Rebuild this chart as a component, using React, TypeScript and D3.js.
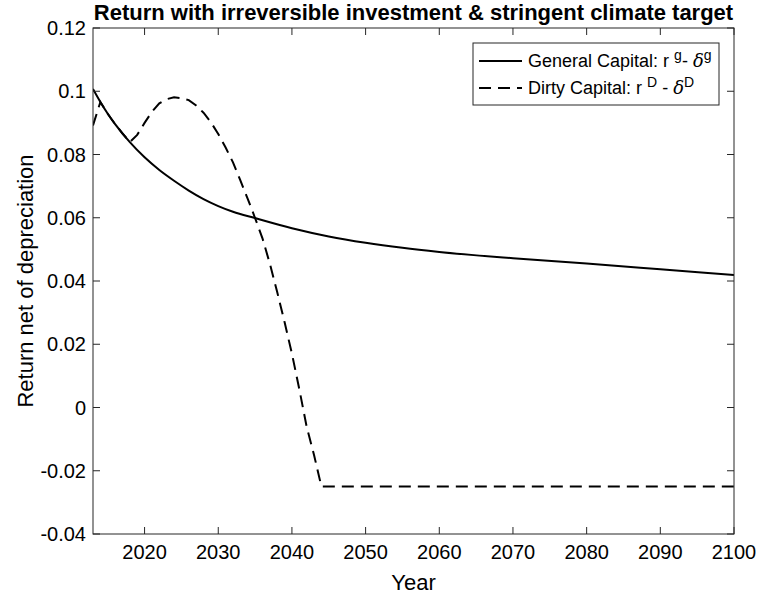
import React from "react";
import * as d3 from "d3";

const generalYears = [2013, 2014, 2015, 2016, 2018, 2020, 2022, 2024, 2026, 2028, 2030, 2032, 2035, 2040, 2045, 2050, 2055, 2060, 2070, 2080, 2090, 2100];
const generalValues = [0.1007, 0.0966, 0.0929, 0.0896, 0.0839, 0.0791, 0.0751, 0.0717, 0.0686, 0.0659, 0.0637, 0.0619, 0.0599, 0.0567, 0.0541, 0.0521, 0.0505, 0.0492, 0.0472, 0.0455, 0.0437, 0.0419];

const dirtyYears = [2013, 2014, 2015, 2016, 2017, 2018, 2019, 2020, 2021, 2022, 2023, 2024, 2025, 2026, 2027, 2028, 2029, 2030, 2031, 2032, 2033, 2034, 2035, 2036, 2037, 2038, 2039, 2040, 2041, 2042, 2043, 2044, 2100];
const dirtyValues = [0.0892, 0.0966, 0.0929, 0.0896, 0.0867, 0.0839, 0.0862, 0.09, 0.0935, 0.0962, 0.0975, 0.0981, 0.0978, 0.0972, 0.0955, 0.0932, 0.0902, 0.0865, 0.0822, 0.0775, 0.0718, 0.066, 0.0599, 0.0535, 0.0455, 0.0365, 0.027, 0.017, 0.0058, -0.0061, -0.015, -0.025, -0.025];

const xTicks = [2020, 2030, 2040, 2050, 2060, 2070, 2080, 2090, 2100];
const yTicks = [-0.04, -0.02, 0, 0.02, 0.04, 0.06, 0.08, 0.1, 0.12];
const yTickLabels = ["-0.04", "-0.02", "0", "0.02", "0.04", "0.06", "0.08", "0.1", "0.12"];

const W = 757, H = 600;
const L = 93, R = 734, T = 28, B = 534;
const font = "'Liberation Sans', Arial, Helvetica, sans-serif";
const axisColor = "#262626";

export default function App() {
  const x = d3.scaleLinear().domain([2013, 2100]).range([L, R]);
  const y = d3.scaleLinear().domain([-0.04, 0.12]).range([B, T]);

  const genLine = d3.line<number>().x((_, i) => x(generalYears[i])).y((v) => y(v)).curve(d3.curveMonotoneX);
  const dirtyLine = d3.line<number>().x((_, i) => x(dirtyYears[i])).y((v) => y(v));

  const tickLen = 7;

  return (
    <svg width={W} height={H} style={{ position: "absolute", left: 0, top: 0, background: "#fff" }} fontFamily={font}>
      <rect x={0} y={0} width={W} height={H} fill="#fff" />
      <text x={(L + R) / 2} y={20} textAnchor="middle" fontSize={22} fontWeight="bold" fill="#000">
        Return with irreversible investment &amp; stringent climate target
      </text>
      <defs>
        <clipPath id="plotclip">
          <rect x={L} y={T} width={R - L} height={B - T} />
        </clipPath>
      </defs>
      <g clipPath="url(#plotclip)">
        <path d={genLine(generalValues) || ""} fill="none" stroke="#000" strokeWidth={2} />
        <path d={dirtyLine(dirtyValues) || ""} fill="none" stroke="#000" strokeWidth={2} strokeDasharray="12 7" />
      </g>
      <rect x={L} y={T} width={R - L} height={B - T} fill="none" stroke={axisColor} strokeWidth={1} />
      {xTicks.map((t) => (
        <g key={"x" + t}>
          <line x1={x(t)} x2={x(t)} y1={B} y2={B - tickLen} stroke={axisColor} />
          <line x1={x(t)} x2={x(t)} y1={T} y2={T + tickLen} stroke={axisColor} />
          <text x={x(t)} y={559} textAnchor="middle" fontSize={20} fill="#000">{t}</text>
        </g>
      ))}
      {yTicks.map((t, i) => (
        <g key={"y" + i}>
          <line x1={L} x2={L + tickLen} y1={y(t)} y2={y(t)} stroke={axisColor} />
          <line x1={R} x2={R - tickLen} y1={y(t)} y2={y(t)} stroke={axisColor} />
          <text x={86} y={y(t)} dy="0.35em" textAnchor="end" fontSize={20} fill="#000">{yTickLabels[i]}</text>
        </g>
      ))}
      <text x={(L + R) / 2} y={590} textAnchor="middle" fontSize={22} fill="#000">Year</text>
      <text transform={`translate(33,${(T + B) / 2}) rotate(-90)`} textAnchor="middle" fontSize={22} fill="#000">
        Return net of depreciation
      </text>
      <rect x={473} y={43} width={246} height={62} fill="#fff" stroke={axisColor} strokeWidth={1} />
      <line x1={479} x2={522} y1={61} y2={61} stroke="#000" strokeWidth={2} />
      <line x1={479} x2={522} y1={88} y2={88} stroke="#000" strokeWidth={2} strokeDasharray="12 7" />
      <text x={528} y={67} fontSize={18} fill="#000">
        General Capital: r <tspan dy={-7} fontSize={14}>g</tspan><tspan dy={7}>- </tspan>
        <tspan fontFamily="'DejaVu Serif', 'Liberation Serif', serif" fontStyle="italic">δ</tspan>
        <tspan dy={-7} fontSize={14}>g</tspan>
      </text>
      <text x={528} y={94} fontSize={18} fill="#000">
        Dirty Capital: r <tspan dy={-7} fontSize={14}>D</tspan><tspan dy={7}> -  </tspan>
        <tspan fontFamily="'DejaVu Serif', 'Liberation Serif', serif" fontStyle="italic">δ</tspan>
        <tspan dy={-7} fontSize={14}>D</tspan>
      </text>
    </svg>
  );
}
